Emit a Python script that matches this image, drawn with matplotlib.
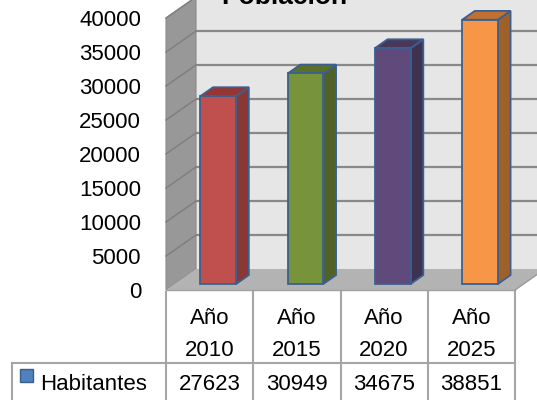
import numpy as np
import matplotlib
matplotlib.use('Agg')
import matplotlib.pyplot as plt
from matplotlib.patches import Polygon, Rectangle

plt.rcParams['font.family'] = ['Liberation Sans', 'DejaVu Sans']

# data
categorias = ['Año\n2010', 'Año\n2015', 'Año\n2020', 'Año\n2025']
habitantes = [27623, 30949, 34675, 38851]
serie = 'Habitantes'
titulo = 'Población'
yticks = list(range(0, 40001, 5000))

frente = ['#C0504D', '#77933C', '#604A7B', '#F79646']
lado = ['#8A3836', '#4F6228', '#3F3151', '#A0602A']
tapa = ['#943634', '#5A7029', '#47385C', '#C0702F']
borde = '#3B6090'

W, H = 537, 400
fig = plt.figure(figsize=(W / 100, H / 100), dpi=100)
fig.patch.set_facecolor('white')

# main axes: front plane of the 3D box
axl, axr, axt, axb = 166, 515, 18, 290
ax = fig.add_axes([axl / W, 1 - axb / H, (axr - axl) / W, (axb - axt) / H])
n = len(categorias)
ymax = 40000
ax.set_xlim(0, n)
ax.set_ylim(0, ymax)
for s in ax.spines.values():
    s.set_visible(False)
ax.set_xticks([])
ax.set_yticks(yticks)
ax.set_yticklabels([str(v) for v in yticks], fontsize=16)
ax.tick_params(axis='y', length=0, pad=18)
ax.patch.set_alpha(0)

# depth offset (pixels -> data units)
px_x = (axr - axl) / n
px_y = (axb - axt) / ymax
ddx = 30 / px_x
ddy = 21 / px_y

grid_c = '#898989'
# back wall
ax.add_patch(Polygon([(ddx, ddy), (n + ddx * 1.5, ddy), (n + ddx * 1.5, ymax + ddy),
                      (ddx, ymax + ddy)], closed=True, fc='#E6E6E6', ec='none',
                     clip_on=False, zorder=1))
# left wall
ax.add_patch(Polygon([(0, 0), (ddx, ddy), (ddx, ymax + ddy), (0, ymax)], closed=True,
                     fc='#989898', ec='#8A8A8A', lw=0.8, clip_on=False, zorder=2))
# floor
ax.add_patch(Polygon([(0, 0), (n, 0), (n + ddx * 1.5, ddy * 1.5), (n + ddx * 1.5, ddy),
                      (ddx, ddy)], closed=True, fc='#B3B3B3', ec='none',
                     clip_on=False, zorder=2))
ax.plot([n, n + ddx * 1.5], [0, ddy * 1.5], color='#9A9A9A', lw=1, clip_on=False, zorder=2)
ax.plot([0, n], [0, 0], color='#A0A0A0', lw=1, clip_on=False, zorder=2)
for v in yticks[1:]:
    ax.plot([ddx, n + ddx * 1.5], [v + ddy, v + ddy], color=grid_c, lw=1.6,
            clip_on=False, zorder=1.5)
    ax.plot([0, ddx], [v, v + ddy], color='#7E7E7E', lw=1.0, clip_on=False, zorder=2.5)

# bars
f0, f1 = 0.29, 0.71
bw = 0.41
for i, v in enumerate(habitantes):
    x0 = i + 0.5 - bw / 2
    x1 = x0 + bw
    a, b = f0 * ddx, f0 * ddy
    c, d = f1 * ddx, f1 * ddy
    side = Polygon([(x1 + a, b), (x1 + c, d), (x1 + c, v + d), (x1 + a, v + b)],
                   closed=True, fc=lado[i], ec=borde, lw=1.3, clip_on=False, zorder=3)
    top = Polygon([(x0 + a, v + b), (x1 + a, v + b), (x1 + c, v + d), (x0 + c, v + d)],
                  closed=True, fc=tapa[i], ec=borde, lw=1.3, clip_on=False, zorder=3)
    front = Rectangle((x0 + a, b), bw, v, fc=frente[i], ec=borde, lw=1.3,
                      clip_on=False, zorder=4)
    ax.add_patch(side)
    ax.add_patch(top)
    ax.add_patch(front)

# overlay axes in pixel coords for table and title
ov = fig.add_axes([0, 0, 1, 1])
ov.set_xlim(0, W)
ov.set_ylim(H, 0)
ov.axis('off')
ov.patch.set_alpha(0)

tc = '#A6A6A6'
t_top, t_mid, t_bot = 292, 363, 402
cols = [axl + i * px_x for i in range(n + 1)]
for x in cols:
    ov.plot([x, x], [t_top, t_bot], color=tc, lw=1.5)
ov.plot([12, cols[-1]], [t_mid, t_mid], color=tc, lw=1.5)
ov.plot([12, 12], [t_mid, t_bot], color=tc, lw=1.5)
for i, lab in enumerate(categorias):
    cx = (cols[i] + cols[i + 1]) / 2
    l1, l2 = lab.split('\n')
    ov.text(cx, 318, l1, ha='center', va='center', fontsize=16)
    ov.text(cx, 350, l2, ha='center', va='center', fontsize=16)
    ov.text(cx, 385, str(habitantes[i]), ha='center', va='center', fontsize=16)
ov.add_patch(Rectangle((20, 369), 13, 13, fc='#4F81BD', ec='#385D8A', lw=1))
ov.text(40, 385, serie, ha='left', va='center', fontsize=16)

ov.text(284, 4, titulo, ha='center', va='baseline', fontsize=19, fontweight='bold')

fig.savefig('out.png', dpi=100)
